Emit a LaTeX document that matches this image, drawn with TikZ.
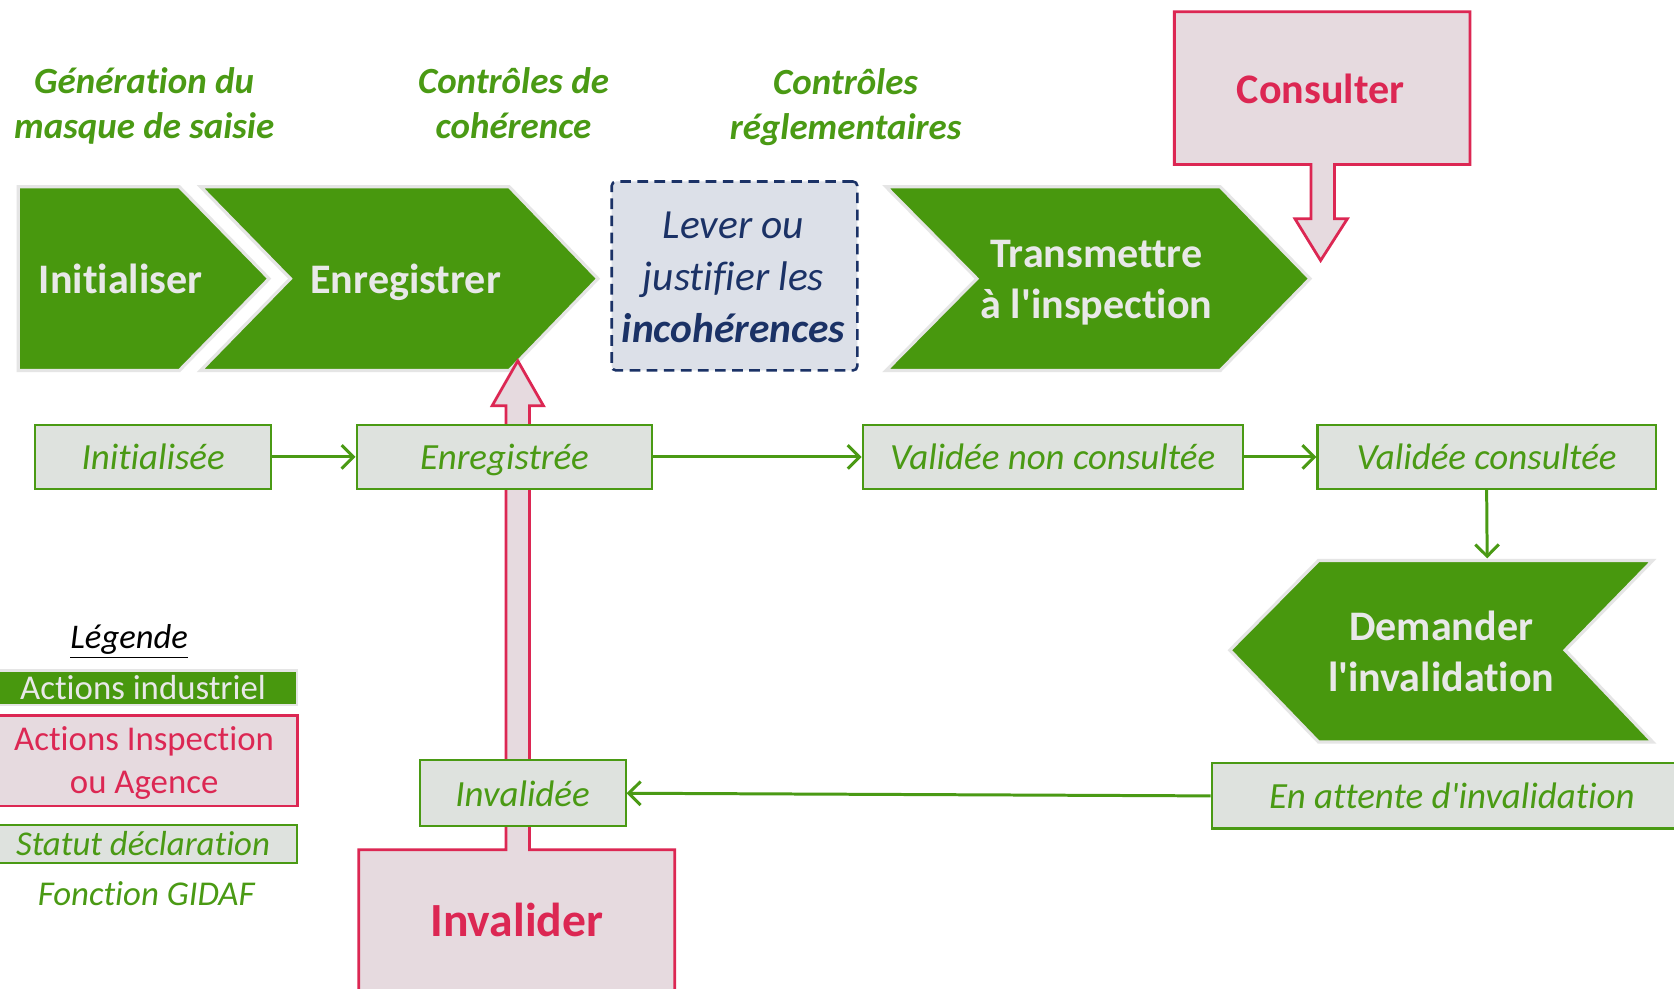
\documentclass[tikz,border=0pt]{standalone}
\usepackage{fontspec}
\newfontfamily\calfont{Carlito}[Ligatures=CommonOff]
\usetikzlibrary{arrows.meta}
\definecolor{cgreen}{HTML}{48980E}
\definecolor{tgreen}{HTML}{4A9A14}
\definecolor{lgray}{HTML}{E8E8E8}
\definecolor{pinkfill}{HTML}{E6DADF}
\definecolor{crimson}{HTML}{DC2753}
\definecolor{statfill}{HTML}{DEE2DE}
\definecolor{navy}{HTML}{1B3266}
\definecolor{leverfill}{HTML}{DCE0E8}
\begin{document}
\calfont
\begin{tikzpicture}[x=0.5pt,y=-0.5pt,
  chev/.style={fill=cgreen, draw=black!10, line width=1.5pt, line join=miter},
  chevtxt/.style={text=lgray, font=\calfont\fontsize{19.7}{24}\selectfont\bfseries, align=center, inner sep=0pt},
  toplabel/.style={text=tgreen, font=\calfont\fontsize{17.3}{21}\selectfont\bfseries\itshape, align=center, inner sep=0pt},
  status/.style={fill=statfill, draw=tgreen, line width=1pt, text=tgreen, font=\calfont\fontsize{17.3}{21}\selectfont\itshape, inner sep=0pt, minimum height=30pt, text height=14pt, text depth=2pt},
  callout/.style={fill=pinkfill, draw=crimson, line width=1.3pt, line join=miter},
  calltxt/.style={text=crimson, font=\calfont\fontsize{19.7}{24}\selectfont\bfseries, inner sep=0pt},
  conn/.style={draw=tgreen, line width=1.4pt, -{Straight Barb[length=5.5pt,width=11pt]}},
  legbox/.style={inner sep=0pt, font=\calfont\fontsize{16.3}{20}\selectfont, align=center},
]
\useasboundingbox (0,0) rectangle (1568,926);
\clip (0,0) rectangle (1568,926);
\fill[white] (0,0) rectangle (1568,926);

% chevrons
\draw[chev] (17,175) -- (168,175) -- (252,261) -- (168,347) -- (17,347) -- cycle;
\node[chevtxt] (tinit) at (113,261) {Initialiser};
\draw[chev] (188,175) -- (477,175) -- (560,261) -- (477,347) -- (188,347) -- (272,261) -- cycle;
\node[chevtxt] (tenr) at (380,264) {Enregistrer};
\draw[chev] (830,175) -- (1143,175) -- (1227,261) -- (1143,347) -- (830,347) -- (915,261) -- cycle;
\node[chevtxt] (ttrans) at (1027,265) {Transmettre\\à l'inspection};
\draw[chev] (1152,609) -- (1235,525) -- (1548,525) -- (1466,609) -- (1548,695) -- (1235,695) -- cycle;
\node[chevtxt] (tdem) at (1350,610) {Demander\\l'invalidation};
\coordinate (demtop) at (1393,523);

% lever
\node[draw=navy, fill=leverfill, dash pattern=on 5pt off 3pt, line width=1.2pt, rounded corners=2pt,
  minimum width=115pt, minimum height=88.5pt, inner sep=0pt] (lever) at (688,258.5) {};
\node[text=navy, align=center, inner sep=0pt, font=\calfont\fontsize{19.4}{24.3}\selectfont\itshape] (levertxt) at (687,260)
  {Lever ou\\justifier les\\\textbf{incohérences}};

% Consulter callout
\draw[callout] (1100,11) -- (1377,11) -- (1377,154) -- (1250,154) -- (1250,205) -- (1262,205)
  -- (1237,244) -- (1213,205) -- (1228,205) -- (1228,154) -- (1100,154) -- cycle;
\node[calltxt] (tcons) at (1237,83) {Consulter};

% Invalider callout
\draw[callout] (336,940) -- (336,796) -- (474,796) -- (474,380) -- (461,380) -- (485,338)
  -- (509,380) -- (496,380) -- (496,796) -- (632,796) -- (632,940) -- cycle;
\node[calltxt, font=\calfont\fontsize{22.3}{26}\selectfont\bfseries] (tinv) at (484,862) {Invalider};

% status boxes
\node[status, minimum width=110.5pt] (sinit) at (143.5,428) {Initialisée};
\node[status, minimum width=138.5pt] (senr) at (472.5,428) {Enregistrée};
\node[status, minimum width=178pt] (svnc) at (986,428) {Validée non consultée};
\node[status, minimum width=158.5pt] (svc) at (1392.5,428) {Validée consultée};
\node[status, minimum width=96.5pt, minimum height=31pt] (sinv) at (489.5,743) {Invalidée};
\node[status, minimum width=225pt, minimum height=30.5pt] (satt) at (1360,745.5) {En attente d'invalidation};

% connectors
\draw[conn] (sinit.east) -- (senr.west);
\draw[conn] (senr.east) -- (svnc.west);
\draw[conn] (svnc.east) -- (svc.west);
\draw[conn] (svc.south) -- (demtop);
\draw[conn] (satt.west) -- (sinv.east);

% top labels
\node[toplabel] (l1) at (135,99) {Génération du\\masque de saisie};
\node[toplabel] (l2) at (481,97) {Contrôles de\\cohérence};
\node[toplabel] (l3) at (792,100) {Contrôles\\réglementaires};

% legend
\node[inner sep=0pt, font=\calfont\fontsize{16.2}{20}\selectfont\itshape] (leg) at (121,601) {\underline{Légende}};
\node[legbox, fill=cgreen, draw=black!10, line width=1pt, text=lgray, minimum width=144pt, minimum height=16pt] (la) at (134,644) {Actions industriel};
\node[legbox, fill=pinkfill, draw=crimson, line width=1.3pt, minimum width=144.5pt, minimum height=42.5pt] (lb) at (134.5,712.5) {};
\node[legbox, text=crimson] (lbt) at (135,715) {Actions Inspection\\ou Agence};
\node[legbox, fill=statfill, draw=tgreen, line width=1pt, text=tgreen, minimum width=144pt, minimum height=17.5pt, font=\calfont\fontsize{16.3}{20}\selectfont\itshape] (lc) at (134,790.5) {Statut déclaration};
\node[legbox, text=tgreen, font=\calfont\fontsize{16.3}{20}\selectfont\itshape] (ld) at (137,837) {Fonction GIDAF};
\end{tikzpicture}
\end{document}
